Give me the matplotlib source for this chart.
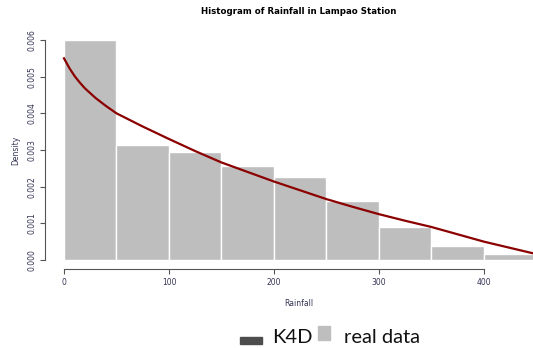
import matplotlib.pyplot as plt
import numpy as np
from matplotlib.patches import Rectangle

# histogram bins (mm) and densities
bin_edges = [0, 50, 100, 150, 200, 250, 300, 350, 400, 450]
density = [0.0060, 0.00314, 0.00294, 0.00256, 0.00227, 0.00161, 0.00090, 0.00038, 0.00016]

# K4D fitted curve
curve_x = [0, 5, 10, 15, 20, 30, 40, 50, 75, 100, 125, 150, 175, 200, 225, 250,
           275, 300, 325, 350, 375, 400, 425, 450]
curve_y = [0.0055, 0.00524, 0.00502, 0.00484, 0.00468, 0.00442, 0.00420, 0.00400,
           0.00364, 0.00330, 0.00297, 0.00266, 0.00240, 0.00214, 0.00190, 0.00166,
           0.00145, 0.00125, 0.00107, 0.00090, 0.00070, 0.00050, 0.00033, 0.00016]

yticks = [0.000, 0.001, 0.002, 0.003, 0.004, 0.005, 0.006]
xticks = [0, 100, 200, 300, 400]

fig = plt.figure(figsize=(5.33, 3.48), dpi=100)
ax = fig.add_axes([64 / 533, 88 / 348, 1 - 64 / 533, 220 / 348])

lefts = np.array(bin_edges[:-1])
widths = np.diff(bin_edges)
ax.bar(lefts, density, width=widths, align="edge", color="#bebebe",
       edgecolor="white", linewidth=1, clip_on=False)
ax.plot(curve_x, curve_y, color="#8b0000", lw=1.6, clip_on=False)

ax.set_xlim(0, 446.7)
ax.set_ylim(0, 0.006)

for s in ["top", "right"]:
    ax.spines[s].set_visible(False)
ax.spines["left"].set_position(("outward", 13.5))
ax.spines["bottom"].set_position(("outward", 6.8))
ax.spines["left"].set_bounds(0, 0.006)
ax.spines["bottom"].set_bounds(0, 400)
for s in ["left", "bottom"]:
    ax.spines[s].set_color("#555555")
    ax.spines[s].set_linewidth(0.8)

ax.set_yticks(yticks)
ax.set_yticklabels(["%.3f" % v for v in yticks], rotation=90, va="center")
ax.set_xticks(xticks)
ax.tick_params(axis="both", labelsize=5.5, colors="#555555", labelcolor="#333355",
               length=3.5, width=0.8, pad=3)

ax.set_xlabel("Rainfall", fontsize=5.5, color="#333355", labelpad=8)
ax.set_ylabel("Density", fontsize=5.5, color="#333355", labelpad=5)
ax.set_title("Histogram of Rainfall in Lampao Station", fontsize=6.2,
             fontweight="bold", pad=19)

# legend at the bottom
fig.patches.append(Rectangle((240 / 533, 4 / 348), 22 / 533, 7 / 348,
                             transform=fig.transFigure, color="#4d4d4d"))
fig.text(272 / 533, 5 / 348, "K4D", fontsize=14.5, family="Lato", color="#111111")
fig.patches.append(Rectangle((318 / 533, 8 / 348), 12 / 533, 14 / 348,
                             transform=fig.transFigure, color="#bebebe"))
fig.text(344 / 533, 5 / 348, "real data", fontsize=14.5, family="Lato", color="#111111")

fig.savefig("out.png", dpi=100)
